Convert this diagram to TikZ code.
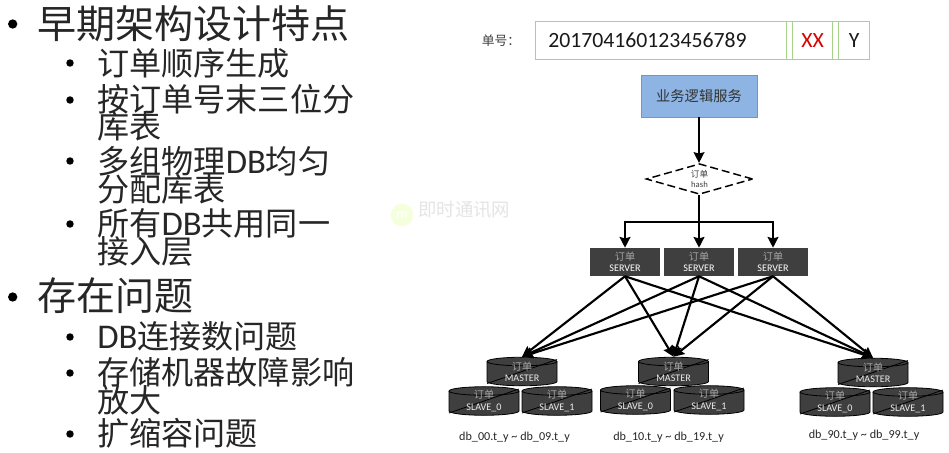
\documentclass[tikz,border=0pt]{standalone}
\usepackage{fontspec}
\setmainfont{Carlito}
\newfontfamily\cjk{Noto Sans CJK SC}
\usetikzlibrary{shapes.geometric,arrows.meta}
\definecolor{boxgreen}{HTML}{A9D18E}
\definecolor{blueface}{HTML}{8DB4E2}
\definecolor{blueline}{HTML}{6F97C9}
\definecolor{darkface}{HTML}{3F3F3F}
\newcommand{\latin}[1]{{\rmfamily\fontsize{26}{26}\selectfont #1}}
\newcommand{\dbdrum}[4]{%
  \begin{scope}[shift={(#2,#3)}]
    \draw[draw=black,fill=darkface,line width=0.6pt] (-35,-10) -- (-35,10) arc[x radius=26.25pt,y radius=3.2pt,start angle=180,end angle=360] -- (35,-10) arc[x radius=26.25pt,y radius=3.2pt,start angle=0,end angle=180] -- cycle;
    \draw[draw=black,line width=0.6pt] (-35,-10) arc[x radius=26.25pt,y radius=3.2pt,start angle=180,end angle=360];
    \draw[draw=black,line width=0.6pt] (-35,12) -- (35,-12);
  \end{scope}
  \node[dbtext] (#1) at (#2,#3) {\raisebox{-1.5pt}{\shortstack{{\cjk\color{white!65!black} 订单}\\#4}}};}
\tikzset{
  x=0.75pt,y=-0.75pt,
  bigtext/.style={anchor=west,inner sep=0pt,font=\cjk\fontsize{29.3}{29}\selectfont,text=black!85},
  subtext/.style={anchor=west,inner sep=0pt,font=\cjk\fontsize{24.1}{24}\selectfont,text=black!85},
  bigdot/.style={circle,fill=black,inner sep=0pt,minimum size=7pt},
  subdot/.style={circle,fill=black,inner sep=0pt,minimum size=5.6pt},
  segbox/.style={draw=boxgreen,line width=0.9pt,inner sep=0pt,anchor=north west,minimum height=28.5pt},
  bluebox/.style={draw=blueline,fill=blueface,line width=0.6pt,minimum width=87pt,minimum height=31.5pt,inner sep=0pt,font=\cjk\fontsize{10.7}{12}\selectfont,text=black!80},
  hashnode/.style={diamond,draw=black,dash pattern=on 6pt off 3pt,line width=1.1pt,aspect=3.48,minimum width=80pt,minimum height=23pt,inner sep=0pt,align=center,font=\fontsize{6.5}{7.5}\selectfont,text=black!75},
  srv/.style={draw=none,fill=darkface,minimum width=52.5pt,minimum height=21pt,inner sep=0pt,align=center,text=white,font=\fontsize{7.6}{8.4}\selectfont},
  dbtext/.style={minimum width=52.5pt,minimum height=21.75pt,inner sep=0pt,align=center,text=white!92!black,font=\fontsize{7.6}{8.4}\selectfont},
  dblabel/.style={inner sep=0pt,font=\fontsize{9.1}{11}\selectfont,text=black!85},
  flow/.style={draw=black,line width=1.9pt,-{Stealth[length=8pt,width=8pt,inset=1pt]}},
  flowplain/.style={draw=black,line width=1.9pt},
  cross/.style={draw=black,line width=1.6pt,-{Stealth[length=8pt,width=7.5pt,inset=1pt]}},
}
\begin{document}
\begin{tikzpicture}
\useasboundingbox (0,0) rectangle (949,453);
\fill[white] (0,0) rectangle (949,453);
% watermark
\node[circle,fill=green!30!yellow!14,minimum size=17pt,inner sep=0pt,text=white,font=\itshape\bfseries\fontsize{11}{11}\selectfont] (wmlogo) at (402,215) {m};
\node[anchor=west,inner sep=0pt,text=black!10,font=\cjk\fontsize{13.8}{14}\selectfont] (wmtext) at (418,210) {即时通讯网};
% left text
\node[bigdot] (b1) at (12.7,24) {};
\node[bigtext] (t1) at (37,24) {早期架构设计特点};
\node[subdot] (s1) at (70,63) {};
\node[subtext] (t2) at (97,63) {订单顺序生成};
\node[subdot] (s2) at (70,100) {};
\node[subtext] (t3a) at (97,99) {按订单号末三位分};
\node[subtext] (t3b) at (97,126) {库表};
\node[subdot] (s3) at (70,161) {};
\node[subtext] (t4a) at (97,161) {多组物理\latin{DB}均匀};
\node[subtext] (t4b) at (97,189) {分配库表};
\node[subdot] (s4) at (70,224) {};
\node[subtext] (t5a) at (97,223) {所有\latin{DB}共用同一};
\node[subtext] (t5b) at (97,251) {接入层};
\node[bigdot] (b2) at (12.7,297) {};
\node[bigtext] (t6) at (37,296) {存在问题};
\node[subdot] (s5) at (70,337) {};
\node[subtext] (t7) at (97,336) {\latin{DB}连接数问题};
\node[subdot] (s6) at (70,373) {};
\node[subtext] (t8a) at (97,372) {存储机器故障影响};
\node[subtext] (t8b) at (97,400) {放大};
\node[subdot] (s7) at (70,434) {};
\node[subtext] (t9) at (97,433) {扩缩容问题};
% order number
\node[inner sep=0pt,text=black!75,font=\cjk\fontsize{9.6}{10}\selectfont] (numlabel) at (501,41) {单号：};
\node[segbox,minimum width=188.25pt] (seg1) at (535,21) {};
\node[anchor=west,inner sep=0pt,font=\fontsize{16.3}{18}\selectfont,text=black!90] (segnum) at (548,40) {201704160123456789};
\node[segbox,minimum width=4.5pt] (seg2) at (786,21) {};
\node[segbox,minimum width=30pt,text=red!85!black,font=\fontsize{16.3}{18}\selectfont] (seg3) at (792,21) {XX};
\node[segbox,minimum width=4.5pt] (seg4) at (832,21) {};
\node[segbox,minimum width=23.25pt,text=black!90,font=\fontsize{16.3}{18}\selectfont] (seg5) at (838,21) {Y};
% logic
\node[bluebox] (logic) at (699,96) {业务逻辑服务};
\node[hashnode] (hash) at (699.5,179) {{\cjk 订单}\\hash};
\draw[flow] (logic) -- (logic|-hash.north);
% servers
\node[srv] (srv1) at (625,262) {{\cjk\color{white!65!black} 订单}\\SERVER};
\node[srv] (srv2) at (699,262) {{\cjk\color{white!65!black} 订单}\\SERVER};
\node[srv] (srv3) at (773,262) {{\cjk\color{white!65!black} 订单}\\SERVER};
\coordinate (hubl) at (625,222);
\coordinate (hubr) at (773,222);
\draw[flow] (srv2|-hash.south) -- (srv2.north);
\draw[flow] (hubl) -- (srv1.north);
\draw[flow] (hubr) -- (srv3.north);
\draw[flowplain,line cap=rect] (hubl) -- (hubr);
% databases
\dbdrum{m1}{522}{371.5}{MASTER}
\dbdrum{a0}{484}{401}{SLAVE\_0}
\dbdrum{a1}{557}{401}{SLAVE\_1}
\dbdrum{m2}{673.5}{371.5}{MASTER}
\dbdrum{b0}{635.5}{400}{SLAVE\_0}
\dbdrum{b1}{709}{400}{SLAVE\_1}
\dbdrum{m3}{873}{372.5}{MASTER}
\dbdrum{c0}{835}{402}{SLAVE\_0}
\dbdrum{c1}{908}{402}{SLAVE\_1}
\foreach \s in {srv1,srv2,srv3}
  \foreach \m in {m1,m2,m3}
    \draw[cross] (\s.south) -- (\m.north);
\node[dblabel] (l1) at (514.5,437) {db\_00.t\_y \textasciitilde{} db\_09.t\_y};
\node[dblabel] (l2) at (668.5,437) {db\_10.t\_y \textasciitilde{} db\_19.t\_y};
\node[dblabel] (l3) at (864,435) {db\_90.t\_y \textasciitilde{} db\_99.t\_y};
\end{tikzpicture}
\end{document}
